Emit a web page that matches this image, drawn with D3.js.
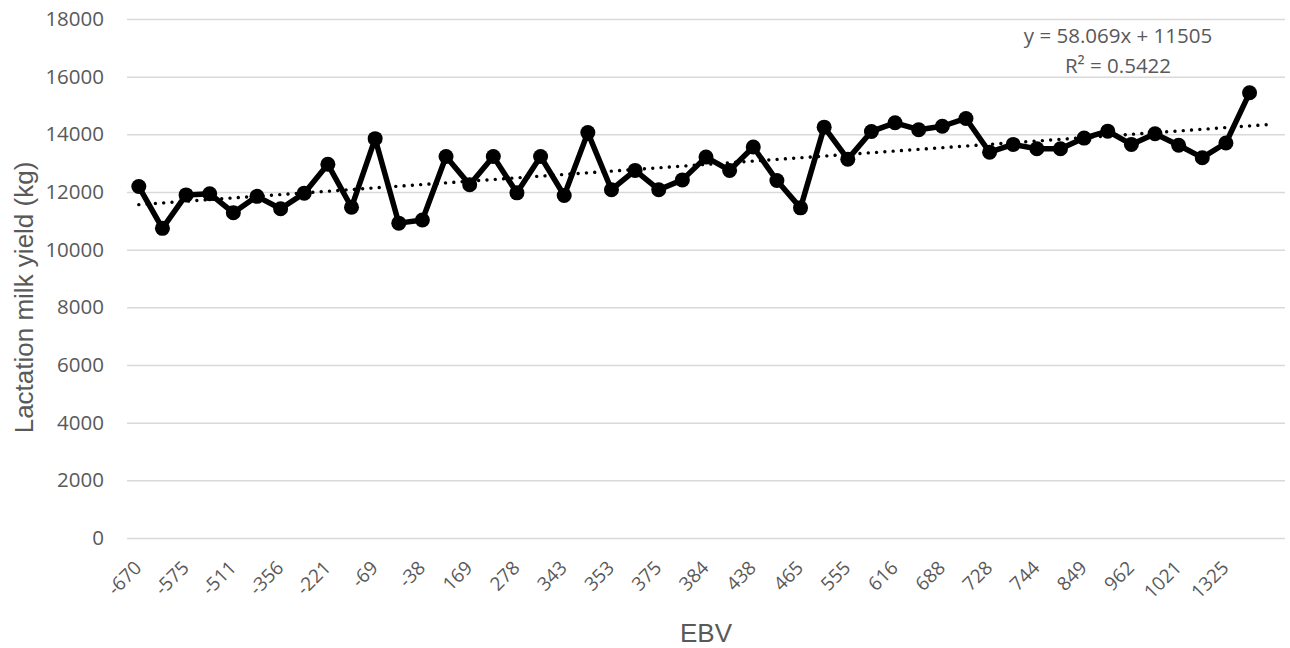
<!DOCTYPE html>
<html>
<head>
<meta charset="utf-8">
<script src="https://cdn.jsdelivr.net/npm/d3@7"></script>
<style>
  html, body { margin: 0; padding: 0; background: #ffffff; }
  svg { display: block; }
</style>
</head>
<body>
<svg id="chart" width="1290" height="648"></svg>
<script>
// ---- data ----
const ebvTickLabels = ["-670", "-575", "-511", "-356", "-221", "-69", "-38", "169", "278", "343",
  "353", "375", "384", "438", "465", "555", "616", "688", "728", "744", "849", "962", "1021", "1325"];
const milkYield = [12190, 10740, 11900, 11940, 11280, 11850, 11420, 11960, 12960, 11470,
  13850, 10920, 11030, 13230, 12250, 13230, 11970, 13230, 11880, 14060,
  12080, 12750, 12080, 12420, 13210, 12750, 13560, 12400, 11450, 14250,
  13140, 14100, 14400, 14160, 14280, 14550, 13380, 13650, 13500, 13500,
  13870, 14110, 13650, 14020, 13620, 13190, 13700, 15440];
const yTicks = [0, 2000, 4000, 6000, 8000, 10000, 12000, 14000, 16000, 18000];
const trendSlope = 58.069;
const trendIntercept = 11505;
const trendText = ["y = 58.069x + 11505", "R\u00B2 = 0.5422"];
const xTitle = "EBV";
const yTitle = "Lactation milk yield (kg)";

// ---- layout ----
const plot = { left: 127, right: 1285, top: 19, bottom: 538 };
const nCats = milkYield.length + 1; // one empty trailing category
const cats = d3.range(1, nCats + 1);

const svg = d3.select("#chart");
const x = d3.scaleBand().domain(cats).range([plot.left, plot.right]);
const cx = i => x(i) + x.bandwidth() / 2;
const y = d3.scaleLinear().domain([0, 18000]).range([plot.bottom, plot.top]);

const textCol = "#595959";
const tickFont = "'Open Sans', sans-serif";
const titleFont = "'Liberation Sans', Arial, sans-serif";

// gridlines + y labels
const yAxis = d3.axisLeft(y).tickValues(yTicks).tickSize(-(plot.right - plot.left)).tickPadding(23).tickFormat(d3.format("d"));
const gy = svg.append("g").attr("transform", `translate(${plot.left},0)`).call(yAxis);
gy.select(".domain").remove();
gy.selectAll(".tick line").attr("stroke", "#d9d9d9").attr("stroke-width", 1.5);
gy.selectAll(".tick text").attr("fill", textCol).style("font-family", tickFont).style("font-size", "20.5px");

// x axis labels
const labelMap = new Map();
ebvTickLabels.forEach((l, k) => labelMap.set(1 + 2 * k, l));
const xAxis = d3.axisBottom(x).tickValues(cats.filter(c => labelMap.has(c))).tickSize(0).tickFormat(c => labelMap.get(c));
const gx = svg.append("g").attr("transform", `translate(0,${plot.bottom})`).call(xAxis);
gx.select(".domain").remove();
gx.selectAll(".tick text")
  .attr("fill", textCol)
  .style("font-family", tickFont).style("font-size", "19px")
  .attr("text-anchor", "end")
  .attr("x", 0).attr("y", 0).attr("dy", 0)
  .attr("transform", "translate(4,31) rotate(-45)");

// series line
const line = d3.line().x((d, i) => cx(i + 1)).y(d => y(d));
svg.append("path").datum(milkYield)
  .attr("d", line).attr("fill", "none").attr("stroke", "#000").attr("stroke-width", 5.5)
  .attr("stroke-linejoin", "round");

svg.append("g").selectAll("circle").data(milkYield).join("circle")
  .attr("cx", (d, i) => cx(i + 1)).attr("cy", d => y(d)).attr("r", 7.5).attr("fill", "#000");

// trendline
const trendPts = [1, nCats].map(k => [cx(k), y(trendSlope * k + trendIntercept)]);
svg.append("path").attr("d", d3.line()(trendPts))
  .attr("fill", "none").attr("stroke", "#000").attr("stroke-width", 3.4)
  .attr("stroke-linecap", "round").attr("stroke-dasharray", "0.01 8.3");

// trend label
const tl = svg.append("text").attr("x", 1118).attr("y", 43).attr("text-anchor", "middle")
  .attr("fill", textCol).style("font-family", tickFont).style("font-size", "20.5px");
trendText.forEach((t, k) => tl.append("tspan").attr("x", 1118).attr("y", 43 + k * 30).text(t));

// axis titles
svg.append("text").attr("x", (plot.left + plot.right) / 2).attr("y", 642).attr("text-anchor", "middle")
  .attr("fill", textCol).style("font-family", titleFont).style("font-size", "26px").text(xTitle);
svg.append("text").attr("transform", `translate(33,${(plot.top + plot.bottom) / 2 + 19}) rotate(-90)`)
  .attr("text-anchor", "middle")
  .attr("fill", textCol).style("font-family", titleFont).style("font-size", "26px").text(yTitle);
</script>
</body>
</html>
